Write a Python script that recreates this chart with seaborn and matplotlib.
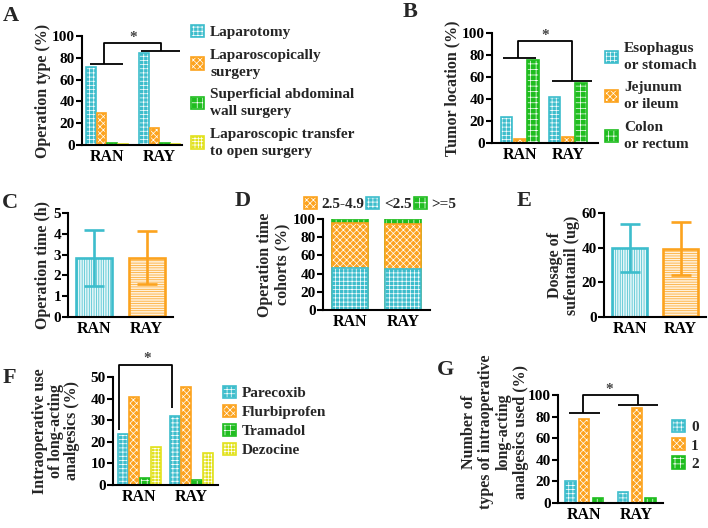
import numpy as np
import pandas as pd
import seaborn as sns
import matplotlib.pyplot as plt
from matplotlib.patches import Patch, Rectangle

groups = ["RAN", "RAY"]

# A: operation type (%)
op_types = ["Laparotomy", "Laparoscopically\nsurgery", "Superficial abdominal\nwall surgery",
            "Laparoscopic transfer\nto open surgery"]
op_ran = [71.3, 29.0, 2.0, 1.0]
op_ray = [84.0, 15.9, 2.0, 1.0]

# B: tumor location (%)
sites = ["Esophagus\nor stomach", "Jejunum\nor ileum", "Colon\nor rectum"]
site_ran = [23.4, 3.6, 75.5]
site_ray = [42.0, 5.8, 54.3]

# C: operation time (h), mean and SD
optime_mean = [2.82, 2.86]
optime_sd = [1.34, 1.28]

# D: operation time cohorts (%)
cohort_lt25 = [46.5, 45.4]
cohort_mid = [48.8, 48.8]
cohort_ge5 = [4.7, 5.8]

# E: dosage of sufentanil (ug), mean and SD
sufen_mean = [39.8, 39.5]
sufen_sd = [14.0, 15.5]

# F: long-acting analgesics (%)
drugs = ["Parecoxib", "Flurbiprofen", "Tramadol", "Dezocine"]
drug_ran = [23.5, 40.6, 3.4, 17.4]
drug_ray = [32.0, 45.5, 2.3, 14.7]

# G: number of types used (%)
ntypes = ["0", "1", "2"]
ntype_ran = [20.4, 77.8, 4.3]
ntype_ray = [9.9, 88.3, 4.3]

CYAN = "#3dbdcc"
ORANGE = "#fca31e"
GREEN = "#1fbd1f"
YELLOW = "#e2e21e"

sns.set_theme(style="ticks")
plt.rcParams["font.family"] = ["Liberation Serif", "DejaVu Serif"]
plt.rcParams["font.weight"] = "bold"
plt.rcParams["axes.labelweight"] = "bold"
plt.rcParams["hatch.linewidth"] = 0.5

W, H = 708, 528
fig = plt.figure(figsize=(W / 100, H / 100), dpi=100)


def px_axes(x0, y0, x1, y1):
    return fig.add_axes([x0 / W, 1 - y1 / H, (x1 - x0) / W, (y1 - y0) / H])


def deco(ax, bars, color, hatch):
    for b in bars:
        b.set_facecolor(color)
        b.set_edgecolor("white")
        b.set_hatch(hatch)
        b.set_linewidth(0)
        ax.add_patch(Rectangle(b.get_xy(), b.get_width(), b.get_height(),
                               fill=False, edgecolor=color, lw=1.2))


def handles(colors, hatches):
    return [(Patch(facecolor=c, edgecolor="white", hatch=h, lw=0),
             Patch(fill=False, edgecolor=c, lw=1.2)) for c, h in zip(colors, hatches)]


def style(ax, ymax, step, xlim):
    ax.set_ylim(0, ymax)
    ax.set_yticks(np.arange(0, ymax + step / 2, step))
    ax.set_xlim(*xlim)
    sns.despine(ax=ax)
    for s in ["left", "bottom"]:
        ax.spines[s].set_linewidth(1.5)
        ax.spines[s].set_color("black")
    ax.tick_params(axis="y", length=4, width=1.5, labelsize=11, pad=1, colors="black")
    ax.tick_params(axis="x", length=0, labelsize=11.5, pad=3, colors="black")
    ax.set_xlabel("")


def grouped(ax, items, ran, ray, colors, hatches, width, gap):
    df = pd.DataFrame({"group": np.repeat(groups, len(items)),
                       "item": items * 2, "value": ran + ray})
    sns.barplot(data=df, x="group", y="value", hue="item", hue_order=items,
                palette=colors, width=width, gap=gap, saturation=1, legend=False, ax=ax)
    for cont, c, h in zip(ax.containers, colors, hatches):
        deco(ax, cont, c, h)


def line(ax, xs, ys):
    ax.plot(xs, ys, color="black", lw=1.3, clip_on=False, solid_capstyle="butt")


def star(ax, x, y):
    ax.text(x, y, "*", ha="center", va="bottom", fontsize=11, color="#444444", clip_on=False)


def legend(ax, hs, labels, anchor, spacing, **kw):
    opts = dict(frameon=False, fontsize=11, handlelength=0.85, handleheight=0.85,
                handletextpad=0.4, borderpad=0, borderaxespad=0)
    opts.update(kw)
    leg = ax.legend(hs, labels, bbox_to_anchor=(anchor[0] / W, 1 - anchor[1] / H),
                    bbox_transform=fig.transFigure, labelspacing=spacing, **opts)
    for t in leg.get_texts():
        t.set_linespacing(1.4)
    return leg


HAT = {CYAN: "++++", ORANGE: "xxxxx", GREEN: "+++", YELLOW: "+++++"}

# ---- A
ax = px_axes(82, 36, 182, 145)
colA = [CYAN, ORANGE, GREEN, YELLOW]
hatA = [HAT[c] for c in colA]
grouped(ax, op_types, op_ran, op_ray, colA, hatA, 0.8, 0.1)
style(ax, 100, 20, (-0.47, 1.42))
ax.set_ylabel("Operation type (%)", fontsize=11.5, labelpad=1)
line(ax, [-0.31, 0.30], [74, 74])
line(ax, [-0.05, -0.05, 1.02, 1.02], [74, 94, 94, 86])
line(ax, [0.64, 1.38], [86, 86])
star(ax, 0.49, 93)
legend(ax, handles(colA, hatA), op_types, (191, 25), 0.62, loc="upper left")

# ---- B
ax = px_axes(492, 33, 598, 143)
colB = [CYAN, ORANGE, GREEN]
hatB = [HAT[c] for c in colB]
grouped(ax, sites, site_ran, site_ray, colB, hatB, 0.83, 0.12)
style(ax, 100, 20, (-0.58, 1.63))
ax.set_ylabel("Tumor location (%)", fontsize=11.5, labelpad=1)
line(ax, [-0.35, 0.33], [77, 77])
line(ax, [-0.04, -0.04, 1.08, 1.08], [77, 93, 93, 56])
line(ax, [0.67, 1.5], [56, 56])
star(ax, 0.52, 92)
legend(ax, handles(colB, hatB), sites, (605, 42), 0.62, loc="upper left")


# ---- C and E (mean +- SD)
def mean_sd(ax, means, sds):
    light = ["#e4f6f8", "#fff0da"]
    edge = [CYAN, ORANGE]
    hat = ["|||||||", "-------"]
    sns.barplot(x=groups, y=means, hue=groups, palette=light, width=0.68,
                saturation=1, legend=False, ax=ax)
    for cont, e, h in zip(ax.containers, edge, hat):
        for b in cont:
            b.set_edgecolor(e)
            b.set_hatch(h)
            b.set_linewidth(1.9)
    for i, (m, s) in enumerate(zip(means, sds)):
        ax.errorbar(i, m, yerr=s, color=edge[i], lw=1.9, capsize=7, capthick=1.9)


ax = px_axes(68, 213, 173, 317)
mean_sd(ax, optime_mean, optime_sd)
style(ax, 5, 1, (-0.5, 1.5))
ax.set_ylabel("Operation time (h)", fontsize=11.5, labelpad=2)

ax = px_axes(604, 213, 706, 317)
mean_sd(ax, sufen_mean, sufen_sd)
style(ax, 60, 20, (-0.5, 1.5))
ax.set_ylabel("Dosage of\nsufentanil (ug)", fontsize=11.5, labelpad=1, linespacing=1.1)

# ---- D (stacked)
ax = px_axes(323, 219, 430, 310)
tot_ge5 = np.array(cohort_lt25) + np.array(cohort_mid) + np.array(cohort_ge5)
tot_mid = np.array(cohort_lt25) + np.array(cohort_mid)
for vals, c in [(tot_ge5, GREEN), (tot_mid, ORANGE), (cohort_lt25, CYAN)]:
    n0 = len(ax.patches)
    sns.barplot(x=groups, y=list(vals), color=c, width=0.68, saturation=1, ax=ax)
    deco(ax, ax.patches[n0:n0 + len(groups)], c, HAT[c])
style(ax, 100, 20, (-0.5, 1.5))
ax.set_ylabel("Operation time\ncohorts (%)", fontsize=11.5, labelpad=2, linespacing=1.1)
colD = [ORANGE, CYAN, GREEN]
legend(ax, handles(colD, [HAT[c] for c in colD]), ["2.5-4.9", "<2.5", ">=5"], (380, 211), 0.5,
       loc="lower center", ncol=3, columnspacing=0.15, handletextpad=0.3)

# ---- F
ax = px_axes(113, 377, 218, 485)
colF = [CYAN, ORANGE, GREEN, YELLOW]
hatF = [HAT[c] for c in colF]
grouped(ax, drugs, drug_ran, drug_ray, colF, hatF, 0.84, 0.12)
style(ax, 50, 10, (-0.5, 1.5))
ax.set_ylabel("Intraoperative use\nof long-acting\nanalgesics (%)", fontsize=11.5,
              labelpad=8, linespacing=1.0)
line(ax, [-0.38, -0.38, 0.62, 0.62], [25.5, 55.5, 55.5, 35.6])
star(ax, 0.15, 55.5)
legend(ax, handles(colF, hatF), drugs, (223, 386), 0.3, loc="upper left")

# ---- G
ax = px_axes(558, 395, 663, 503)
colG = [CYAN, ORANGE, GREEN]
hatG = [HAT[c] for c in colG]
grouped(ax, ntypes, ntype_ran, ntype_ray, colG, hatG, 0.78, 0.25)
style(ax, 100, 20, (-0.5, 1.5))
ax.set_ylabel("Number of\ntypes of intraoperative\nlong-acting\nanalgesics used (%)",
              fontsize=11.5, linespacing=1.1, va="bottom")
ax.yaxis.set_label_coords(-0.28, 0.66)
line(ax, [-0.3, 0.3], [83, 83])
line(ax, [-0.02, -0.02, 1.02, 1.02], [83, 100, 100, 91])
line(ax, [0.64, 1.4], [91, 91])
star(ax, 0.47, 99)
legend(ax, handles(colG, hatG), ntypes, (672, 420), 0.25, loc="upper left")

# panel letters
for lab, x, y in [("A", 3, 6), ("B", 403, 2), ("C", 2, 193), ("D", 235, 191),
                  ("E", 517, 191), ("F", 3, 368), ("G", 437, 360)]:
    fig.text(x / W, 1 - y / H, lab, fontsize=16, fontweight="bold", va="top", ha="left")

fig.savefig("out.png", dpi=100)
